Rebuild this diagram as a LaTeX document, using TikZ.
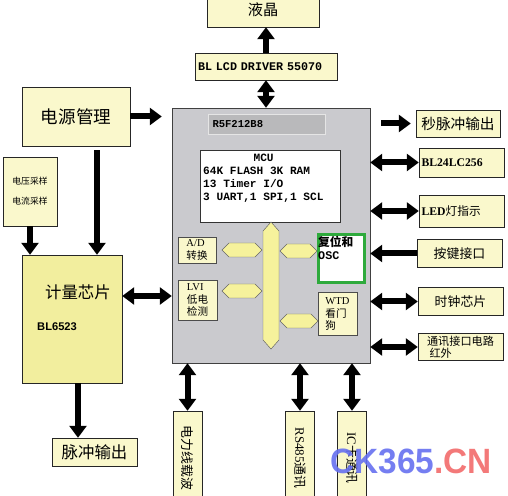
\documentclass[tikz,border=0pt]{standalone}
\usepackage{fontspec}
\setmainfont{Liberation Serif}
\setmonofont{Liberation Mono}
\newfontfamily\cjk{Noto Sans CJK SC}
\newfontfamily\sansfnt{Liberation Sans}
\usetikzlibrary{arrows.meta,positioning,calc}

\definecolor{paleyel}{HTML}{FAF8CC}
\definecolor{chipyel}{HTML}{F2EE9E}
\definecolor{busyel}{HTML}{F6F29C}
\definecolor{mcugray}{HTML}{CACACE}
\definecolor{labgray}{HTML}{B9B9BB}
\definecolor{oscgreen}{HTML}{2EAA3C}
\definecolor{wmblue}{HTML}{6670F0}
\definecolor{wmred}{HTML}{F26A6A}

\newlength\pix
\setlength\pix{0.3mm}

\tikzset{
  blk/.style={draw=black!85, fill=paleyel, inner sep=1pt, align=center},
  inbox/.style={draw=black!70, fill=paleyel, inner sep=1pt, align=left, font=\fontsize{9}{10.5}\selectfont},
  vbox/.style={blk, rotate=-90, minimum width=94\pix, minimum height=29\pix, font=\cjk\fontsize{11}{11}\selectfont},
  fat/.style={line width=1.8mm, -{Triangle[width=5.1mm,length=3.6mm]}},
  fatboth/.style={line width=1.8mm, {Triangle[width=5.1mm,length=3.6mm]}-{Triangle[width=5.1mm,length=3.6mm]}},
  bus/.style={draw=black!60, fill=busyel, line width=0.4pt},
}

\begin{document}
\begin{tikzpicture}[x=\pix,y=-\pix]
\useasboundingbox (0,0) rectangle (508,496);
\clip (0,0) rectangle (508,496);

% display branch
\node[blk, minimum width=112\pix, minimum height=34\pix, font=\cjk\fontsize{13}{13}\selectfont] (lcd) at (263,10) {液晶};
\node[blk, minimum width=142\pix, minimum height=27\pix, text width=136\pix, align=left, font=\ttfamily\bfseries\fontsize{10}{12}\selectfont] (drv) at (266,66.5) {BL LCD DRIVER 55070};

% MCU block
\node[draw=black!75, fill=mcugray, minimum width=198\pix, minimum height=255\pix] (mcu) at (271,235.5) {};
\node[draw=white!80!gray, fill=labgray, minimum width=117\pix, minimum height=20\pix, text width=108\pix, align=left, inner sep=0pt, font=\ttfamily\bfseries\fontsize{9}{10}\selectfont] (chip) at (266.5,124) {R5F212B8};
\node[draw=black!80, fill=white, minimum width=140\pix, minimum height=72\pix] (core) at (270,186) {};
\node[anchor=north west, inner sep=0pt, align=left, font=\ttfamily\bfseries\fontsize{9.5}{11}\selectfont] (coretxt) at (203,154) {\hspace*{43pt}MCU\\64K FLASH 3K RAM\\13 Timer I/O\\3 UART,1 SPI,1 SCL};

% internal bus
\draw[bus] (271,222) -- (279,231) -- (279,340) -- (271,349) -- (263,340) -- (263,231) -- cycle;
\foreach \xa/\xb/\yy in {222/262/250, 280/317/251, 222/262/291, 280/318/321}
  \draw[bus] (\xa,\yy) -- (\xa+7,\yy-7) -- (\xb-7,\yy-7) -- (\xb,\yy) -- (\xb-7,\yy+7) -- (\xa+7,\yy+7) -- cycle;

\node[inbox, minimum width=38\pix, minimum height=26\pix] (ad) at (197,250) {A/D\\{\cjk 转换}};
\node[inbox, minimum width=39\pix, minimum height=40\pix] (lvi) at (197.5,300) {LVI\\{\cjk 低电}\\{\cjk 检测}};
\node[inbox, minimum width=39\pix, minimum height=43\pix] (wtd) at (337.5,314) {WTD\\{\cjk 看门}\\{\cjk 狗}};
\node[draw=oscgreen, line width=0.9mm, fill=white, minimum width=46\pix, minimum height=48\pix] (osc) at (341,258.5) {};
\node[anchor=north west, inner sep=0pt, align=left, font=\fontsize{10}{11}\selectfont] (osctxt) at (318,236) {{\cjk\bfseries 复位和}\\{\ttfamily\bfseries OSC}};

% right side
\node[blk, minimum width=84\pix, minimum height=27\pix, font=\cjk\fontsize{12.5}{14}\selectfont] (secout) at (458,123.5) {秒脉冲输出};
\node[blk, minimum width=85\pix, minimum height=29\pix, text width=80\pix, align=left, font=\bfseries\fontsize{10}{12}\selectfont] (eep) at (461.5,162.5) {BL24LC256};
\node[blk, minimum width=85\pix, minimum height=32\pix, text width=80\pix, align=left, font=\fontsize{10}{12}\selectfont] (led) at (461.5,211) {\textbf{LED}{\cjk 灯指示}};
\node[blk, minimum width=85\pix, minimum height=28\pix, font=\cjk\fontsize{11}{13}\selectfont] (key) at (459.5,253.5) {按键接口};
\node[blk, minimum width=85\pix, minimum height=28\pix, font=\cjk\fontsize{11}{13}\selectfont] (rtc) at (460.5,301.5) {时钟芯片};
\node[blk, minimum width=85\pix, minimum height=27\pix, align=left, font=\cjk\fontsize{9.5}{10.5}\selectfont] (comm) at (460.5,347) {通讯接口电路\\\ 红外};

% left side
\node[blk, minimum width=108\pix, minimum height=59\pix, font=\cjk\fontsize{15}{15}\selectfont] (pwr) at (76,116.5) {电源管理};
\node[blk, minimum width=54\pix, minimum height=69\pix, font=\cjk\fontsize{7.5}{17}\selectfont] (samp) at (30,191.5) {电压采样\\电流采样};
\node[draw=black!85, fill=chipyel, minimum width=100\pix, minimum height=128\pix] (meter) at (72,319) {};
\node[font=\cjk\fontsize{14}{14}\selectfont] (metername) at (78,292) {计量芯片};
\node[anchor=west, inner sep=0pt, font=\sansfnt\bfseries\fontsize{9.5}{10}\selectfont] (metertype) at (37,327) {BL6523};
\node[blk, minimum width=85\pix, minimum height=28\pix, font=\cjk\fontsize{14}{14}\selectfont] (pout) at (94.5,452) {脉冲输出};

% bottom
\node[vbox] (plc) at (187.5,458) {电力线载波};
\node[vbox] (rs) at (300,458) {{\rmfamily RS485}通讯};
\node[vbox] (ic) at (352,458) {{\rmfamily IC}卡通讯};

% connectors
\draw[fat] (drv.north) -- (drv.north |- lcd.south);
\draw[fatboth] (drv.south) -- (drv.south |- mcu.north);
\draw[fat, shorten >=3mm] (pwr.east) -- (pwr.east -| mcu.west);
\draw[fat, shorten <=1.2mm] ([xshift=6.3mm]pwr.south) -- ([xshift=6.3mm]pwr.south |- meter.north);
\draw[fat] (samp.south) -- (samp.south |- meter.north);
\draw[fatboth] ([yshift=6.9mm]meter.east) -- ([yshift=6.9mm]meter.east -| mcu.west);
\draw[fat] ([xshift=1.8mm]meter.south) -- ([xshift=1.8mm]meter.south |- pout.north);
\draw[fatboth] (mcu.south -| plc.west) -- (plc.west);
\draw[fatboth] (mcu.south -| rs.west) -- (rs.west);
\draw[fatboth] (mcu.south -| ic.west) -- (ic.west);
\draw[fat, shorten <=3.3mm, shorten >=1.5mm] (secout.west -| mcu.east) -- (secout.west);
\draw[fatboth] (eep.west -| mcu.east) -- (eep.west);
\draw[fatboth] (led.west -| mcu.east) -- (led.west);
\draw[fat] (key.west) -- (key.west -| mcu.east);
\draw[fatboth] (rtc.west -| mcu.east) -- (rtc.west);
\draw[fatboth] (comm.west -| mcu.east) -- (comm.west);

% site mark
\node[anchor=base west, inner sep=0pt, opacity=0.9, font=\sansfnt\bfseries\fontsize{30}{30}\selectfont] (mark) at (330,473) {\scalebox{0.95}[1]{\textcolor{wmblue}{CK365}\textcolor{wmred}{.CN}}};
\end{tikzpicture}
\end{document}
